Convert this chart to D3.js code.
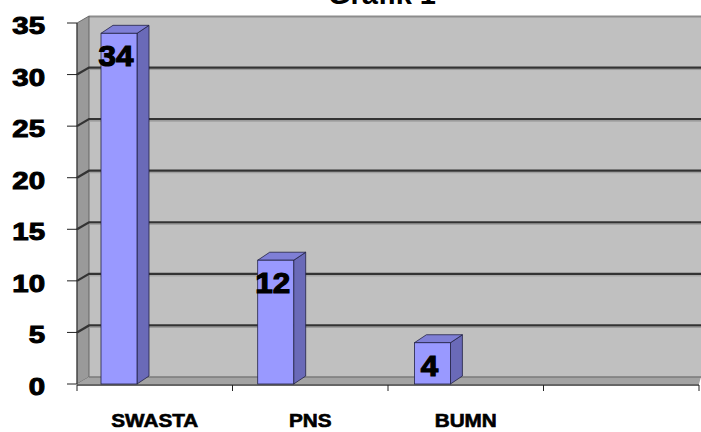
<!DOCTYPE html>
<html><head><meta charset="utf-8">
<script src="https://cdn.jsdelivr.net/npm/d3@7"></script>
<style>html,body{margin:0;padding:0;background:#fff;}svg{display:block;}</style>
</head><body>
<svg id="c" width="701" height="432"></svg>
<script>
const title = "Grafik 1";
const categories = ["SWASTA", "PNS", "BUMN", ""];
const values = [34, 12, 4, null];
const yTicks = [0, 5, 10, 15, 20, 25, 30, 35];

const svg = d3.select("#c");
const font = "'Liberation Sans', Arial, sans-serif";
const y = d3.scaleLinear().domain([0, 35]).range([384, 23]);
const x = d3.scaleBand().domain(categories).range([77, 699]).padding(0);
const dx = 12, dy = -7;
const left = x.range()[0], right = x.range()[1];

function heavy(t, w) {
  return t.attr("stroke", "#000").attr("stroke-width", w).attr("paint-order", "stroke");
}

// back wall
svg.append("rect").attr("x", left + dx).attr("y", y(35) + dy)
  .attr("width", 701 - left - dx).attr("height", y(0) - y(35))
  .attr("fill", "#c0c0c0");
svg.append("line").attr("x1", left + dx).attr("x2", 701)
  .attr("y1", y(35) + dy + 0.5).attr("y2", y(35) + dy + 0.5)
  .attr("stroke", "#8c8c8c").attr("stroke-width", 2);
// side wall
svg.append("polygon")
  .attr("points", [[left, y(35)], [left + dx, y(35) + dy], [left + dx, y(0) + dy], [left, y(0)]].join(" "))
  .attr("fill", "#9a9a9a").attr("stroke", "#555").attr("stroke-width", 0.8);
// floor
svg.append("polygon")
  .attr("points", [[left, y(0)], [left + dx, y(0) + dy], [701, y(0) + dy], [right, y(0)]].join(" "))
  .attr("fill", "#a3a3a3");
svg.append("line").attr("x1", left + dx).attr("x2", 701)
  .attr("y1", y(0) + dy).attr("y2", y(0) + dy)
  .attr("stroke", "#7a7a7a").attr("stroke-width", 1.5);

// gridlines
yTicks.filter(v => v > 0 && v < 35).forEach(v => {
  svg.append("polyline")
    .attr("points", [[left, y(v)], [left + dx, y(v) + dy], [701, y(v) + dy]].join(" "))
    .attr("fill", "none").attr("stroke", "#333").attr("stroke-width", 2.2);
  svg.append("line").attr("x1", left + dx).attr("x2", 701)
    .attr("y1", y(v) + dy + 2).attr("y2", y(v) + dy + 2)
    .attr("stroke", "#9a9a9a").attr("stroke-width", 1);
});

// axes
svg.append("line").attr("x1", left).attr("x2", left).attr("y1", y(35)).attr("y2", y(0))
  .attr("stroke", "#333").attr("stroke-width", 1);
svg.append("line").attr("x1", left).attr("x2", right).attr("y1", y(0) + 1).attr("y2", y(0) + 1)
  .attr("stroke", "#333").attr("stroke-width", 1.5);
yTicks.forEach(v => {
  svg.append("line").attr("x1", left - 10).attr("x2", left).attr("y1", y(v)).attr("y2", y(v))
    .attr("stroke", "#222").attr("stroke-width", 1);
  heavy(svg.append("text").attr("transform", `translate(45,${y(v) + 11}) scale(1.25,1)`)
    .attr("text-anchor", "end").attr("font-family", font).attr("font-weight", "bold")
    .attr("font-size", 23.5).attr("fill", "#000").text(v), 1);
});
const bounds = categories.map(c => x(c)).concat([right]);
bounds.forEach(b => {
  svg.append("line").attr("x1", b).attr("x2", b).attr("y1", y(0) + 1).attr("y2", y(0) + 7)
    .attr("stroke", "#222").attr("stroke-width", 1);
});
categories.forEach(c => {
  if (!c) return;
  heavy(svg.append("text").attr("transform", `translate(${x(c) + x.bandwidth() / 2},427) scale(1.12,1)`)
    .attr("text-anchor", "middle").attr("font-family", font).attr("font-weight", "bold")
    .attr("font-size", 18.5).attr("fill", "#000").text(c), 0.6);
});

// bars
const bw = 36, bdx = 12, bdy = -8;
categories.forEach((c, i) => {
  const v = values[i];
  if (v == null) return;
  const x0 = x(c) + 24 + i * 1.2, x1 = x0 + bw, yt = y(v), yb = y(0);
  const g = svg.append("g");
  g.append("polygon").attr("points", [[x1, yt], [x1 + bdx, yt + bdy], [x1 + bdx, yb + bdy], [x1, yb]].join(" "))
    .attr("fill", "#6a6ab8").attr("stroke", "#222244").attr("stroke-width", 0.8);
  g.append("polygon").attr("points", [[x0, yt], [x0 + bdx, yt + bdy], [x1 + bdx, yt + bdy], [x1, yt]].join(" "))
    .attr("fill", "#7f7fd6").attr("stroke", "#222244").attr("stroke-width", 0.8);
  g.append("rect").attr("x", x0).attr("y", yt).attr("width", bw).attr("height", yb - yt)
    .attr("fill", "#9999ff").attr("stroke", "#222244").attr("stroke-width", 0.8);
  heavy(g.append("text").attr("transform", `translate(${x0 + bw / 2 - 3},${yt + 33}) scale(1.08,1)`)
    .attr("text-anchor", "middle").attr("font-family", font).attr("font-weight", "bold")
    .attr("font-size", 29).attr("fill", "#000").text(v), 1.2);
});

// title (partly cut off at top, as in the reference)
svg.append("text").attr("x", 382).attr("y", 4).attr("text-anchor", "middle")
  .attr("font-family", font).attr("font-weight", "bold").attr("font-size", 29)
  .attr("fill", "#000").text(title);
</script>
</body></html>
